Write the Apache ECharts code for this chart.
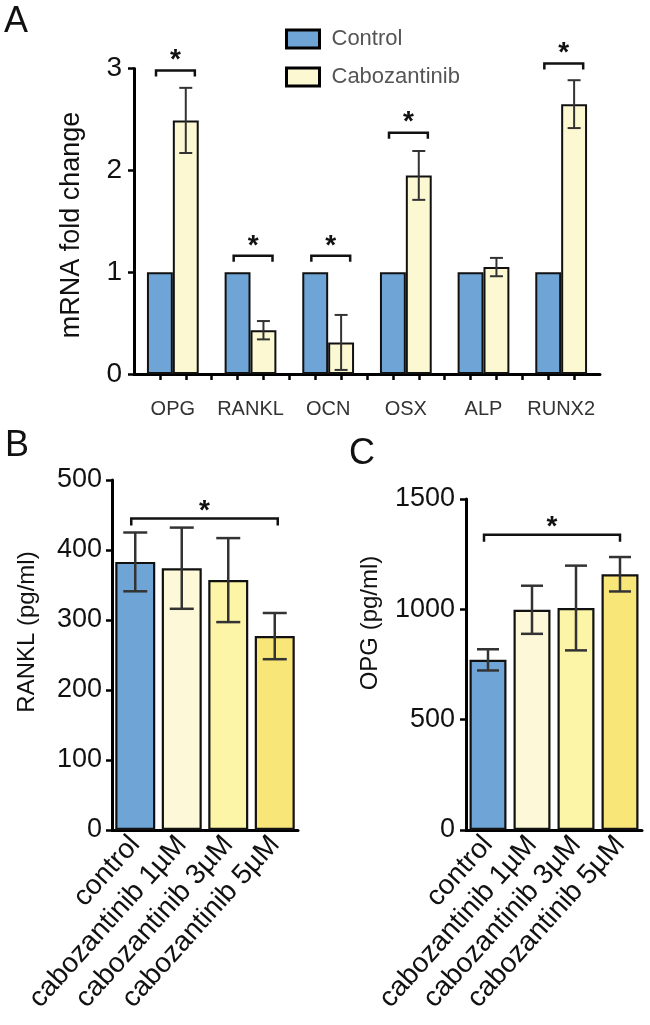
<!DOCTYPE html>
<html><head><meta charset="utf-8">
<script src="https://cdn.jsdelivr.net/npm/echarts@6/dist/echarts.min.js"></script>
<style>html,body{margin:0;padding:0;background:#fff}#c{width:650px;height:1025px}</style>
</head><body><div id="c"></div>
<script>
// ---- data ----
const genesA = ['OPG', 'RANKL', 'OCN', 'OSX', 'ALP', 'RUNX2'];
const controlA = [1, 1, 1, 1, 1, 1];
const caboA = [2.49, 0.43, 0.31, 1.95, 1.05, 2.65];
const caboErrA = [0.32, 0.09, 0.27, 0.24, 0.09, 0.235];
const sigGroupsA = [0, 1, 2, 3, 5];
const sigHeightsA = [2.98, 1.16, 1.16, 2.37, 3.05];
const treatments = ['control', 'cabozantinib 1µM', 'cabozantinib 3µM', 'cabozantinib 5µM'];
const ranklB = [383, 374, 357, 277];
const ranklErrB = [42, 58, 60, 33];
const sigPairB = [0, 3];
const sigHeightB = 445;
const opgC = [771, 998, 1006, 1159];
const opgErrC = [48, 109, 192, 78];
const sigPairC = [0, 3];
const sigHeightC = 1338;

// ---- styles ----
const FONT = '"Liberation Sans", Arial, Helvetica, sans-serif';
const BLUE = '#6fa5d6';
const CREAM = '#fcf8d2';
const barColorsBC = [BLUE, '#fdf9d8', '#fcf4a6', '#f8e679'];
const axisLine = {lineStyle: {color: '#000', width: 3}};
const axisTick = {length: 6, lineStyle: {color: '#000', width: 2.5}};

function errRender(capW, lw) {
  return function (params, api) {
    const x = api.value(0), v = api.value(1), e = api.value(2);
    const t = api.coord([x, v + e]), b = api.coord([x, v - e]);
    const cx = t[0];
    const st = {stroke: '#333', lineWidth: lw, fill: null};
    return {type: 'group', children: [
      {type: 'line', shape: {x1: cx, y1: t[1], x2: cx, y2: b[1]}, style: st},
      {type: 'line', shape: {x1: cx - capW / 2, y1: t[1], x2: cx + capW / 2, y2: t[1]}, style: st},
      {type: 'line', shape: {x1: cx - capW / 2, y1: b[1], x2: cx + capW / 2, y2: b[1]}, style: st}
    ]};
  };
}
function bracketRender(dx1, dx2, leg, starGap) {
  return function (params, api) {
    const a = api.coord([api.value(0), api.value(2)]);
    const b = api.coord([api.value(1), api.value(2)]);
    const x1 = a[0] + dx1, x2 = b[0] + dx2, y = a[1];
    return {type: 'group', children: [
      {type: 'polyline', shape: {points: [[x1, y + leg], [x1, y], [x2, y], [x2, y + leg]]},
        style: {stroke: '#111', lineWidth: 2.5, fill: null}},
      {type: 'text', x: (x1 + x2) / 2, y: y - starGap,
        style: {text: '*', font: 'bold 28px ' + FONT, fill: '#111', align: 'center', verticalAlign: 'middle'}}
    ]};
  };
}
const plain = v => String(v);

const chart = echarts.init(document.getElementById('c'), null, {renderer: 'canvas'});
chart.setOption({
  animation: false,
  backgroundColor: '#fff',
  textStyle: {fontFamily: FONT},
  legend: {
    data: ['Control', 'Cabozantinib'], orient: 'vertical', left: 280, top: 23,
    itemWidth: 33, itemHeight: 18, itemGap: 16, icon: 'rect',
    itemStyle: {borderColor: '#000', borderWidth: 3},
    textStyle: {fontSize: 22, color: '#555', fontFamily: FONT, padding: [0, 0, 0, 7]}
  },
  grid: [
    {left: 134, top: 68.5, width: 466, height: 305.5},
    {left: 112, top: 480, width: 186, height: 350},
    {left: 466, top: 499, width: 176, height: 331}
  ],
  xAxis: [
    {gridIndex: 0, type: 'category', position: 'bottom', data: genesA, axisLine: axisLine, axisTick: {show: false},
      axisLabel: {fontSize: 20, color: '#333', margin: 25, interval: 0}},
    {gridIndex: 0, type: 'value', position: 'bottom', min: 0, max: 18, interval: 1, axisLine: {show: false},
      splitLine: {show: false}, axisLabel: {show: false},
      axisTick: Object.assign({show: true, customValues: Array.from({length: 17}, (_, i) => i + 1)}, axisTick)},
    {gridIndex: 1, type: 'category', position: 'bottom', data: treatments, axisLine: axisLine,
      axisTick: Object.assign({alignWithLabel: true}, axisTick),
      axisLabel: {rotate: 48, fontSize: 28, color: '#111', margin: 10, interval: 0}},
    {gridIndex: 2, type: 'category', position: 'bottom', data: treatments, axisLine: axisLine,
      axisTick: Object.assign({alignWithLabel: true}, axisTick),
      axisLabel: {rotate: 48, fontSize: 28, color: '#111', margin: 10, interval: 0}}
  ],
  yAxis: [
    {gridIndex: 0, type: 'value', min: 0, max: 3, interval: 1, axisLine: Object.assign({show: true}, axisLine),
      axisTick: Object.assign({show: true}, axisTick), splitLine: {show: false},
      axisLabel: {fontSize: 28, color: '#111', margin: 12, formatter: plain}},
    {gridIndex: 1, type: 'value', min: 0, max: 500, interval: 100, axisLine: Object.assign({show: true}, axisLine),
      axisTick: Object.assign({show: true}, axisTick), splitLine: {show: false},
      axisLabel: {fontSize: 27, color: '#111', margin: 10, formatter: plain}},
    {gridIndex: 2, type: 'value', min: 0, max: 1500, interval: 500, axisLine: Object.assign({show: true}, axisLine),
      axisTick: Object.assign({show: true}, axisTick), splitLine: {show: false},
      axisLabel: {fontSize: 27, color: '#111', margin: 11, formatter: plain}}
  ],
  graphic: [
    {type: 'text', left: 4, top: 4, style: {text: 'A', font: '36px ' + FONT, fill: '#111'}},
    {type: 'text', left: 5, top: 428, style: {text: 'B', font: '36px ' + FONT, fill: '#111'}},
    {type: 'text', left: 349, top: 436, style: {text: 'C', font: '36px ' + FONT, fill: '#111'}},
    {type: 'text', x: 72, y: 225, rotation: Math.PI / 2,
      style: {text: 'mRNA fold change', font: '27px ' + FONT, fill: '#111', align: 'center', verticalAlign: 'middle'}},
    {type: 'text', x: 27, y: 632, rotation: Math.PI / 2,
      style: {text: 'RANKL (pg/ml)', font: '24px ' + FONT, fill: '#111', align: 'center', verticalAlign: 'middle'}},
    {type: 'text', x: 370, y: 623, rotation: Math.PI / 2,
      style: {text: 'OPG (pg/ml)', font: '24px ' + FONT, fill: '#111', align: 'center', verticalAlign: 'middle'}}
  ],
  series: [
    {name: 'Control', type: 'bar', xAxisIndex: 0, yAxisIndex: 0, data: controlA,
      barWidth: '33.33%', barGap: '0%', itemStyle: {color: BLUE, borderColor: '#111', borderWidth: 2}},
    {name: 'Cabozantinib', type: 'bar', xAxisIndex: 0, yAxisIndex: 0, data: caboA,
      barWidth: '33.33%', barGap: '0%', itemStyle: {color: CREAM, borderColor: '#111', borderWidth: 2}},
    {type: 'custom', xAxisIndex: 1, yAxisIndex: 0, clip: false, z: 5,
      data: caboA.map((v, i) => [3 * i + 2, v, caboErrA[i]]), renderItem: errRender(13, 2)},
    {type: 'custom', xAxisIndex: 1, yAxisIndex: 0, clip: false, z: 5,
      encode: {x: [0, 1], y: 2},
      data: sigGroupsA.map((g, k) => [3 * g + 0.85, 3 * g + 2.35, sigHeightsA[k]]),
      renderItem: bracketRender(0, 0, 6, 10)},

    {type: 'bar', xAxisIndex: 2, yAxisIndex: 1, data: ranklB, barCategoryGap: '14%',
      itemStyle: {color: p => barColorsBC[p.dataIndex], borderColor: '#111', borderWidth: 2.2}},
    {type: 'custom', xAxisIndex: 2, yAxisIndex: 1, clip: false, z: 5,
      data: ranklB.map((v, i) => [i, v, ranklErrB[i]]), renderItem: errRender(24, 2.5)},
    {type: 'custom', xAxisIndex: 2, yAxisIndex: 1, clip: false, z: 5,
      encode: {x: [0, 1], y: 2},
      data: [[sigPairB[0], sigPairB[1], sigHeightB]], renderItem: bracketRender(-4, 3, 7, 7)},

    {type: 'bar', xAxisIndex: 3, yAxisIndex: 2, data: opgC, barCategoryGap: '16%',
      itemStyle: {color: p => barColorsBC[p.dataIndex], borderColor: '#111', borderWidth: 2.2}},
    {type: 'custom', xAxisIndex: 3, yAxisIndex: 2, clip: false, z: 5,
      data: opgC.map((v, i) => [i, v, opgErrC[i]]), renderItem: errRender(22, 2.5)},
    {type: 'custom', xAxisIndex: 3, yAxisIndex: 2, clip: false, z: 5,
      encode: {x: [0, 1], y: 2},
      data: [[sigPairC[0], sigPairC[1], sigHeightC]], renderItem: bracketRender(-4, 0, 7, 7)}
  ]
});
</script></body></html>
